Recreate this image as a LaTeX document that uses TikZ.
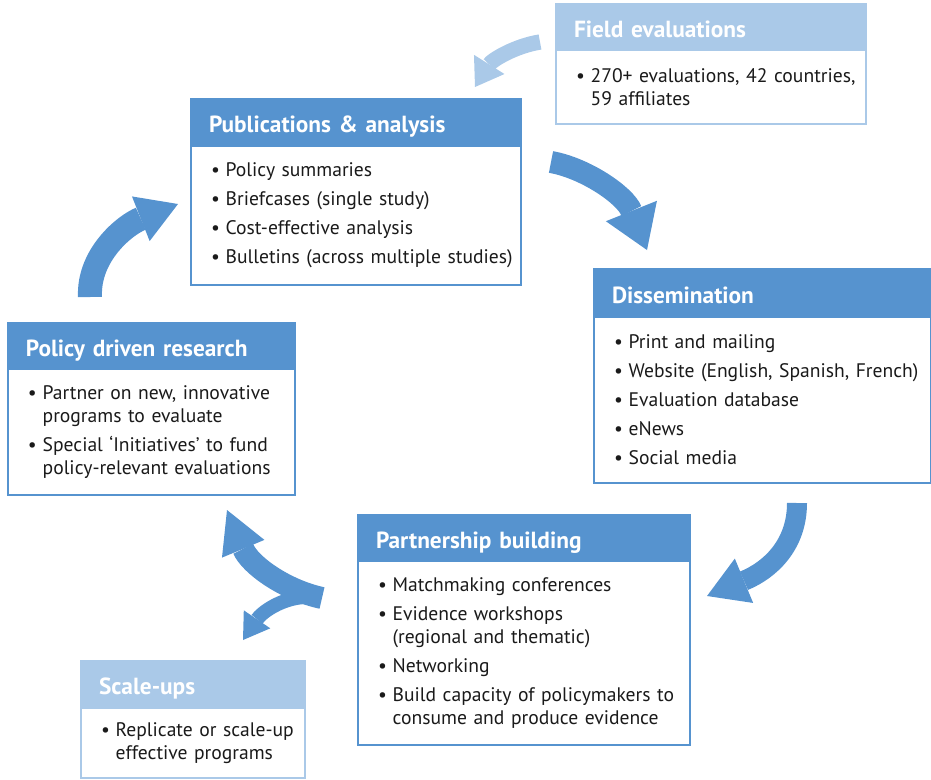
\documentclass[tikz,border=0pt]{standalone}
\usepackage{fontspec}
\setmainfont{PT Sans}
\usetikzlibrary{arrows.meta}
\definecolor{dblue}{RGB}{86,147,207}
\definecolor{lblue}{RGB}{170,201,232}
\definecolor{txt}{RGB}{26,26,26}
\newcommand\bitem[1]{\hspace*{9pt}\makebox[11pt][l]{\textbullet}#1}
\newcommand\bcont[1]{\hspace*{20pt}#1}
\tikzset{
  hdr/.style={anchor=north west, outer sep=0pt, inner xsep=13.5pt, inner ysep=0pt, fill=#1, draw=#1, line width=1.5pt, text=white, font=\fontsize{17.5}{20}\selectfont\bfseries, align=left, text height=15.25pt, text depth=0pt},
  bdy/.style={anchor=north west, outer sep=0pt, inner xsep=6pt, inner ysep=0pt, fill=white, draw=#1, line width=1.5pt, text=txt, font=\fontsize{14.7}{17.25}\selectfont, align=left},
  bigarrow/.style={draw=dblue, line width=#1}
}
\begin{document}
\begin{tikzpicture}[x=0.75pt,y=-0.75pt]
\useasboundingbox (0,0) rectangle (931,779);

% Field evaluations
\node[hdr=lblue, text width=205.5pt, minimum height=34.5pt] (fh) at (556,4) {Field evaluations};
\node[bdy=lblue, text width=220.5pt, minimum height=55.5pt] (fb) at (fh.south west)
 {\bitem{270+ evaluations, 42 countries,}\\\bcont{59 affiliates}};

% Publications
\node[hdr=dblue, text width=220.5pt, minimum height=35.25pt] (ph) at (191,99) {Publications \& analysis};
\node[bdy=dblue, text width=235.5pt, minimum height=104.25pt] (pb) at (ph.south west)
 {\bitem{Policy summaries}\\[4.5pt]\bitem{Briefcases (single study)}\\[4.5pt]\bitem{Cost-effective analysis}\\[4.5pt]\bitem{Bulletins (across multiple studies)}};

% Dissemination
\node[hdr=dblue, text width=225.75pt, minimum height=36pt] (dh) at (594,269) {Dissemination};
\node[bdy=dblue, text width=240.75pt, minimum height=124.5pt] (db) at (dh.south west)
 {\bitem{Print and mailing}\\[4.5pt]\bitem{Website (English, Spanish, French)}\\[4.5pt]\bitem{Evaluation database}\\[4.5pt]\bitem{eNews}\\[4.5pt]\bitem{Social media}};

% Policy driven research
\node[hdr=dblue, text width=188.25pt, minimum height=34.5pt] (rh) at (8,323) {Policy driven research};
\node[bdy=dblue, text width=203.25pt, minimum height=94.5pt] (rb) at (rh.south west)
 {\bitem{Partner on new, innovative}\\\bcont{programs to evaluate}\\[4.5pt]\bitem{Special ‘Initiatives’ to fund}\\\bcont{policy-relevant evaluations}};

% Partnership building
\node[hdr=dblue, text width=222pt, minimum height=34.5pt] (bh) at (358,515) {Partnership building};
\node[bdy=dblue, text width=237pt, minimum height=138pt] (bb) at (bh.south west)
 {\bitem{Matchmaking conferences}\\[4.5pt]\bitem{Evidence workshops}\\\bcont{(regional and thematic)}\\[4.5pt]\bitem{Networking}\\[4.5pt]\bitem{Build capacity of policymakers to}\\\bcont{consume and produce evidence}};

% Scale-ups
\node[hdr=lblue, text width=141pt, minimum height=35.25pt] (sh) at (81,661) {Scale-ups};
\node[bdy=lblue, text width=156pt, minimum height=52.5pt] (sb) at (sh.south west)
 {\bitem{Replicate or scale-up}\\\bcont{effective programs}};

% arrows
\coordinate (a1s) at (540,42); \coordinate (a1e) at (475,87);
\draw[bigarrow=11.5pt, draw=lblue, -{Triangle[length=20pt,width=27pt,line width=0pt]}]
  (a1s) .. controls (515,46) and (492,60) .. (a1e);

\coordinate (a2s) at (551,162); \coordinate (a2e) at (647,250);
\draw[bigarrow=16.5pt, -{Triangle[length=31.5pt,width=41.25pt,line width=0pt]}]
  (a2s) .. controls (585,168) and (625,195) .. (a2e);

\coordinate (a3s) at (797,503); \coordinate (a3e) at (707,596);
\draw[bigarrow=15pt, -{Triangle[length=30pt,width=36pt,line width=0pt]}]
  (a3s) .. controls (797,545) and (770,570) .. (a3e);

\coordinate (a4s) at (90,297); \coordinate (a4e) at (178,204);
\draw[bigarrow=18pt, -{Triangle[length=30pt,width=36pt,line width=0pt]}]
  (a4s) .. controls (88,255) and (125,225) .. (a4e);

\coordinate (a5s) at (322,598); \coordinate (a5e) at (227,510);
\draw[bigarrow=16.5pt, -{Triangle[length=31.5pt,width=34.5pt,line width=0pt]}]
  (a5s) .. controls (285,590) and (250,565) .. (a5e);
\coordinate (a6s) at (305,597); \coordinate (a6e) at (243,640);
\draw[bigarrow=10.5pt, -{Triangle[length=18.75pt,width=24pt,line width=0pt]}]
  (a6s) .. controls (282,598) and (262,612) .. (a6e);
\end{tikzpicture}
\end{document}
